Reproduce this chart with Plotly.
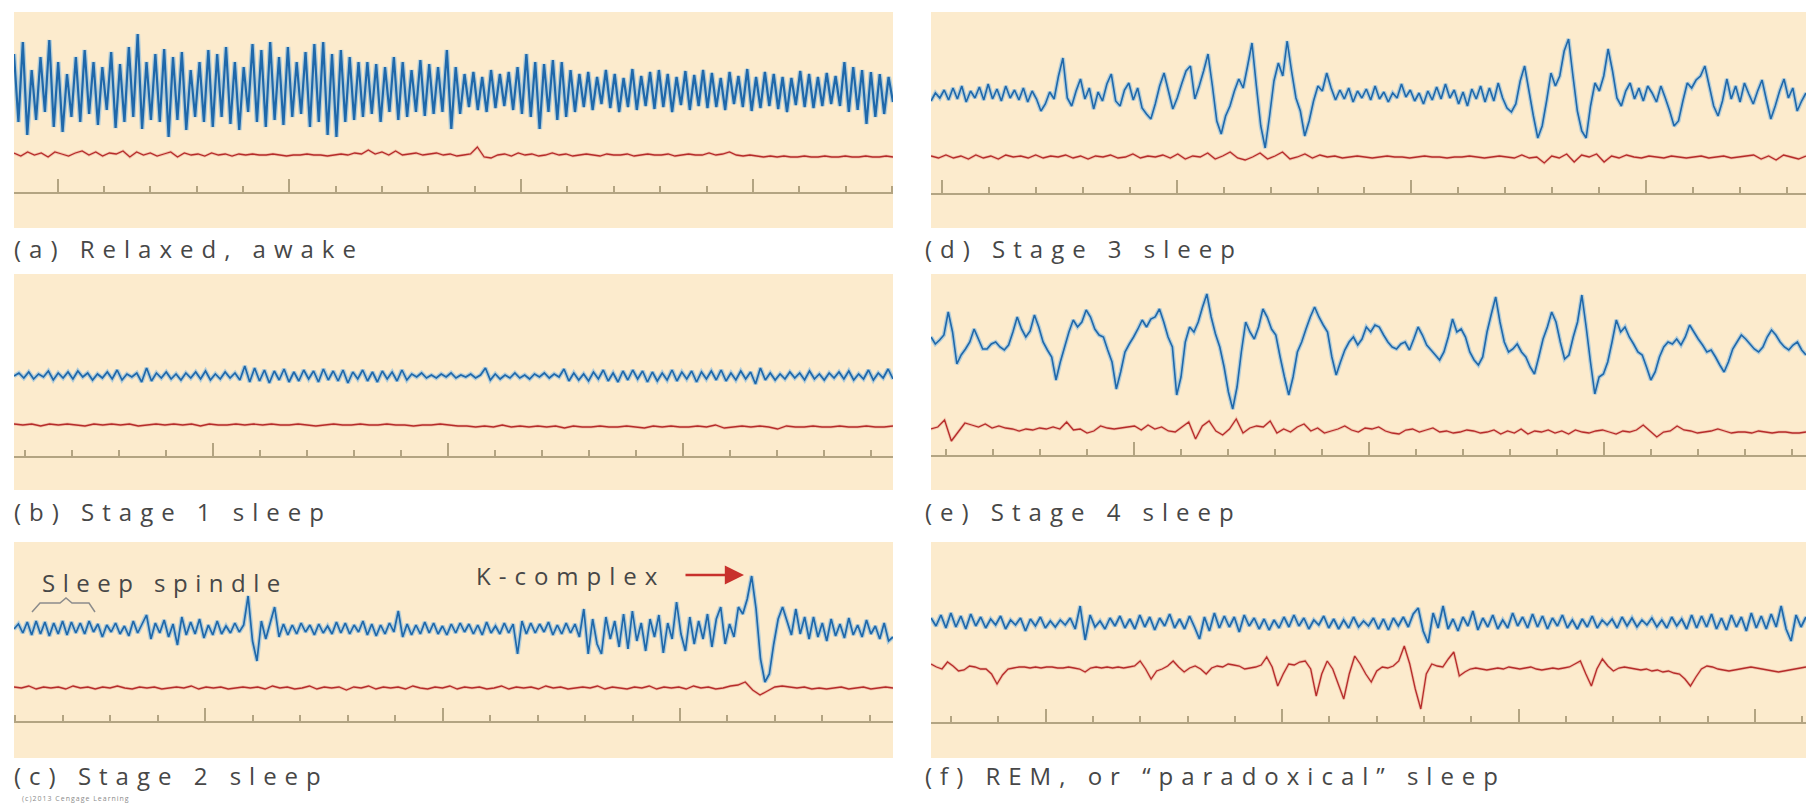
import numpy as np
import plotly.graph_objects as go

# ---------------- data (px units, + = up) ----------------
PANEL_TITLES = ["(a) Relaxed, awake", "(b) Stage 1 sleep", "(c) Stage 2 sleep",
                "(d) Stage 3 sleep", "(e) Stage 4 sleep", "(f) REM, or “paradoxical” sleep"]

EEG_A = [38,-30,50,-43,22,-28,35,-20,52,-35,30,-40,18,
         -25,35,-30,42,-22,30,-33,25,-18,40,-36,28,-30,45,-25,58,-37,30,-28,
         38,-30,43,-45,35,-28,40,-38,22,-25,30,
         -30,42,-35,38,-25,45,-32,30,-38,25,-20,48,-30,42,-35,50,-28,35,-33,45,-25,30,-22,
         40,-35,48,-30,50,-43,38,-45,42,-30,35,-28,30,
         -25,30,-22,28,-30,25,-20,35,-28,30,-25,22,-20,32,-24,28,-22,25,
         -20,42,-37,25,-22,
         18,-15,20,-18,15,-20,22,-16,18,-14,20,-18,25,
         -22,38,-25,30,-37,28,-20,32,-28,30,-25,22,-20,18,
         -15,20,-18,15,-12,22,-16,18,-20,14,-15,23,-18,16,-14,20,-17,22,-15,18,-20,15,-13,21,
         -18,17,-14,22,-16,19,-15,14,-18,20,-12,16,-15,23,-19,15,-16,20,-14,18,-17,15,-20,14,
         -13,21,-15,18,-16,15,-14,19,-12,
         16,-14,30,-20,25,-18,22,-32,20,-25,18,-22,15,-10]
EMG_A = [2,-1,3,0,2,-2,3,1,-1,2,4,0,3,-1,2,1,4,-2,3,0,2,-1,1,3,-2,2,0,1,-1,2,0,1,-1,1,
         0,1,0,0,1,0,-1,0,0,1,0,0,-1,0,1,0,2,1,
         5,1,3,0,4,0,1,2,0,1,2,0,1,-1,0,1,
         8,-2,-3,
         0,1,-1,2,0,1,-1,0,2,0,1,-1,0,1,0,-1,1,0,0,1,-1,0,1,0,0,1,-1,0,1,0,0,2,0,1,3,
         0,-1,0,-1,-2,-1,-2,-1,-2,-2,-1,-2,-2,-1,-2,-2,-1,-2,-2,-1,-2,-2,-1,-2]

EEG_B = [0,3,-2,4,-3,2,-1,5,-4,3,-2,4,-3,5,-1,3,-4,2,-2,4,-3,6,-4,2,-1,3,
         -6,8,-5,3,-2,
         4,-3,2,-4,3,-2,4,-3,5,-4,2,-3,4,-2,3,-4,
         10,-6,8,
         -5,6,-7,5,-4,7,-6,4,-5,6,-3,5,-6,7,-4,5,-5,6,-7,4,-3,6,-5,4,-6,5,-3,4,-5,6,-4,
         2,-1,3,-2,1,-2,2,-1,3,-2,1,-1,2,-2,1,
         8,-4,
         2,-3,1,-2,3,-2,1,-3,2,-1,3,-2,2,-1,
         7,-5,
         3,-4,2,-5,4,-3,6,-5,3,-6,5,-4,6,-3,5,-6,4,-5,3,-4,6,-5,4,-3,5,-6,4,-3,5,-4,6,-5,3,-4,5,-3,4,
         -8,8,-4,
         3,-4,2,-3,4,-2,3,-4,5,-3,2,-4,3,-2,4,-3,5,-4,2,-3,6,-4,3,-2,7,-3]
EMG_B = [1,0,1,-1,1,0,1,0,-1,1,0,1,0,1,-1,0,1,0,1,0,1,-1,1,0,0,1,0,1,0,1,0,0,1,0,-1,0,1,0,0,1,
         0,0,1,0,0,-1,0,0,1,0,-1,-1,-2,-1,-2,0,-2,-1,-2,-1,-2,-1,-3,-1,-2,-2,-1,-2,-2,-1,-2,-3,
         -1,-2,-1,-2,-2,-1,-2,0,-3,-2,-1,-2,-1,-2,-4,-1,-2,-2,-1,-2,-2,-1,-2,-2,-1,-2,-2,-1]

EEG_C = [0,5,-4,7,-6,8,-5,7,-7,6,-5,8,-6,7,-4,6,-5,8,-3,
         5,-8,4,-3,6,-5,3,-7,8,-4,5,
         14,-10,
         6,-4,9,-8,5,-16,12,-6,7,-5,10,-9,4,-6,8,-5,3,-4,6,-3,
         4,33,-12,-32,
         8,-10,6,22,-8,5,-6,4,
         -5,6,-3,4,-6,5,-4,3,-5,7,-4,6,-5,4,-3,8,-6,5,-7,4,-5,6,-3,18,-8,5,-6,4,-5,7,-4,6,
         -5,3,-6,5,-4,6,-3,5,-5,4,-6,7,-4,3,-5,6,-4,5,-25,8,-5,6,-4,5,-3,7,-6,4,-5,6,-4,5,
         -8,20,-25,10,-15,-25,12,-10,8,-18,15,-20,18,-12,6,-22,10,-8,14,-24,6,-10,27,-5,-22,12,
         -15,8,-10,15,-18,10,
         22,-15,5,-8,22,15,30,53,
         20,-30,-53,-45,-15,
         10,22,8,-6,20,-5,12,
         -10,12,-8,6,-12,10,-7,5,-9,11,-6,4,-8,9,-5,3,-10,6,-12,-8]
EMG_C = [1,0,2,-1,1,0,1,-1,2,0,1,-1,1,0,2,0,-1,1,0,1,-1,0,1,0,2,-1,1,0,1,-1,0,1,0,1,-1,2,0,1,
         -1,0,2,-1,1,0,1,-2,1,0,2,-1,1,0,1,-1,2,0,-1,1,0,2,-1,1,0,1,-1,0,2,-1,1,0,1,-1,2,0,1,-1,
         0,1,0,2,-1,1,0,-1,1,0,2,-1,1,0,1,-1,2,0,1,-1,0,2,
         3,6,-2,-7,-3,1,2,
         1,0,1,-1,0,-1,0,1,-1,0,1,-1,0,1,0]

EEG_D = [-5,3,-2,6,-4,8,-3,10,-6,5,-2,9,-4,12,-3,7,-5,10,-2,6,-4,8,-6,5,-3,-15,-8,4,-3,
         20,38,
         -2,-10,5,17,-3,8,-13,4,-5,
         12,22,-5,-10,6,13,-4,8,-12,-18,-23,
         -8,10,23,5,-13,
         -2,12,25,30,-3,10,25,42,10,
         -25,-38,-20,-10,
         5,17,8,30,53,
         10,-30,-52,-20,
         15,33,20,55,25,
         -2,-15,-40,-25,-5,
         10,5,23,8,-4,6,
         -3,8,-6,5,-2,7,-4,10,-3,4,-6,3,-2,12,-1,6,-5,3,-8,5,-4,9,-3,12,-2,6,-8,4,-10,7,-3,10,
         -6,8,-5,13,-2,-12,-16,-8,
         15,30,5,-20,-42,-30,-5,
         23,10,20,45,57,
         20,-15,-35,-42,
         -10,13,5,20,47,25,
         -2,-10,5,13,-3,8,-5,10,3,-6,
         10,-2,-15,-30,-25,-5,
         13,8,16,20,30,10,
         -10,-20,-5,17,-3,10,-6,13,2,-8,5,16,-4,-23,-10,5,17,-2,8,-15,-5,3]
EMG_D = [1,-1,2,-1,1,-2,2,-1,1,-2,2,0,1,-1,2,-1,1,0,2,-1,1,-2,1,0,2,-1,0,3,-1,1,0,2,-1,3,-2,1,
         0,4,-2,1,5,-1,-3,0,4,-2,1,5,-2,0,3,-1,2,0,1,-1,0,1,0,-1,0,1,0,0,-1,0,1,0,0,-1,0,0,1,0,
         -1,0,1,0,-1,2,-1,0,-6,1,-1,3,-5,2,0,3,-5,1,-1,2,0,-1,1,0,-1,1,0,-1,0,1,-1,0,1,-1,0,1,
         2,-2,1,-3,2,0,-2,1]

EEG_E = [10,3,7,12,35,15,-17,-8,-2,5,18,8,-2,
         -2,3,5,0,-3,2,15,30,18,10,16,32,20,
         5,-3,-10,-33,-15,0,15,27,20,25,37,30,18,
         12,10,-3,-15,-42,-25,-5,3,10,18,27,20,28,
         30,38,25,10,0,-48,-30,5,20,15,25,40,53,
         30,13,0,-20,-45,-62,-40,-5,25,15,8,20,38,
         30,18,12,-10,-30,-48,-30,-5,5,18,30,40,30,
         22,15,-10,-28,-15,-3,5,10,2,8,20,15,22,
         20,12,5,0,-2,3,5,-3,8,20,12,2,-3,
         -8,-13,-5,10,28,15,18,10,-5,-13,-18,-10,15,
         33,50,25,5,-5,-2,3,-5,-10,-20,-27,-10,8,
         20,35,25,5,-12,-8,10,25,52,20,-15,-47,-30,
         -27,-15,5,27,15,20,10,3,-5,-8,-20,-33,-25,
         -10,0,5,3,8,2,10,22,15,8,2,-5,-3,
         -10,-18,-25,-15,-2,5,12,8,3,-2,-5,0,10,
         17,12,5,0,-3,2,5,-3,-8]
EMG_E = [0,2,9,-12,-3,6,4,2,5,1,3,1,0,-2,0,-1,1,0,2,0,7,-1,0,-4,-2,3,1,0,1,2,3,-1,4,0,2,-2,
         -3,2,7,-10,3,8,-2,-6,0,10,-4,1,3,2,8,-4,0,-3,2,5,-2,1,-4,-2,0,3,-1,-3,1,0,2,-2,-4,-5,
         -1,0,-3,-1,1,-3,-2,-4,-3,-1,-2,-4,-3,-1,-5,-2,-4,0,-5,-2,-3,-1,-4,-2,-5,-1,-3,-4,-2,-1,
         -3,-5,-2,-3,-1,4,-2,-8,-3,-2,3,-1,-2,-4,-3,-2,0,-2,-4,-3,-3,-4,-2,-3,-4,-3,-3,-4,-4,-3]

EEG_F = [5,-3,8,-5,10,-4,7,-6,9,-3,6,-5,4,-2,7,-6,3,-2,5,-8,4,-3,6,-5,2,-4,3,-2,5,-6,17,-17,
         8,-4,2,-6,5,-3,7,-5,4,-6,8,-4,6,-7,5,-3,9,-5,4,-6,7,-4,-16,6,-8,10,-5,7,-4,6,-9,8,-3,
         5,-6,4,-7,3,-5,6,-4,8,-3,5,-6,3,-2,7,-5,4,-6,3,-5,6,-4,2,-3,5,-6,4,-7,5,-3,6,-4,9,15,
         -8,-20,10,-5,17,-6,4,-8,6,-3,12,-7,5,-4,8,-6,3,-5,10,-3,6,-5,9,-4,7,-6,5,-3,8,-5,3,-6,
         4,-4,7,-5,3,-2,4,-5,6,-3,5,-4,3,-2,5,-4,3,-5,6,-3,4,-6,8,-5,7,-4,9,-6,5,-7,8,-4,6,-8,
         10,-5,7,-6,9,-4,17,-6,-18,8,-4,6]
EMG_F = [5,2,0,7,3,-2,-1,3,2,0,0,
         -5,-15,-6,0,1,2,
         2,1,2,1,2,2,1,1,2,1,0,-3,1,2,1,2,1,2,1,2,3,
         8,0,-10,-2,0,3,
         8,2,-3,1,3,0,-5,1,3,2,5,4,
         3,0,1,2,4,12,
         2,-17,-5,5,4,7,
         8,0,-27,-5,8,0,-15,-30,
         -5,13,5,-5,-13,
         -2,2,1,3,8,23,
         5,-20,-40,-5,
         5,3,2,10,17,-7,
         -3,0,1,0,-1,0,1,0,2,1,0,1,2,0,-1,0,1,0,1,
         2,5,8,-5,-17,0,
         10,3,-2,1,2,1,
         0,-1,0,-2,-1,-3,-2,-4,-5,-10,-17,
         -8,0,3,2,0,-1,-2,-1,0,1,2,1,0,-1,-2,-3,-2,-1,0,1,2]

# ruler: first major tick and major spacing, in ruler divisions from the panel's left edge
RULER_TICK0 = [0.93, 4.23, 4.07, 5.23, 4.31, 2.44]
RULER_MAJOR_STEP = [4.93, 5.0, 5.05, 4.99, 5.0, 5.03]

# ---------------- layout / style ----------------
W, H = 1806, 806
DIV = 47.0  # px per ruler division
BG = "#fcebcd"
RULER = "#b3a482"
BLUE = "#1f68aa"
BLUE_HALO = "rgba(130,185,225,0.6)"
RED = "#b52c2a"
RED_HALO = "rgba(224,120,110,0.35)"
TXT = "#474747"
FONT = "Open Sans"
LS = 8  # letter spacing (px) of the stretched-looking captions

COLS = [(14, 893), (931, 1806)]
ROWS = [(12, 228), (274, 490), (542, 758)]

panels = [
    dict(col=0, row=0, eeg=EEG_A, emg=EMG_A, eb=136, mb=73, rl=35, ty=248, bw=2.2),
    dict(col=0, row=1, eeg=EEG_B, emg=EMG_B, eb=114, mb=65, rl=33, ty=511, bw=1.7),
    dict(col=0, row=2, eeg=EEG_C, emg=EMG_C, eb=129, mb=70, rl=36, ty=775, bw=1.7),
    dict(col=1, row=0, eeg=EEG_D, emg=EMG_D, eb=132, mb=71, rl=34, ty=248, bw=1.6),
    dict(col=1, row=1, eeg=EEG_E, emg=EMG_E, eb=143, mb=61, rl=34, ty=511, bw=1.6),
    dict(col=1, row=2, eeg=EEG_F, emg=EMG_F, eb=135, mb=89, rl=35, ty=775, bw=1.7),
]


def px(x):
    return x / W


def py(y):
    return 1 - y / H


def spaced(s, ls=LS):
    return '<span style="letter-spacing:%spx">%s</span>' % (ls, s)


fig = go.Figure()
layout = dict(
    width=W, height=H, autosize=False,
    margin=dict(l=0, r=0, t=0, b=0, pad=0),
    paper_bgcolor="white", plot_bgcolor=BG,
    showlegend=False,
)
annotations = []

for i, p in enumerate(panels):
    n = "" if i == 0 else str(i + 1)
    x0, x1 = COLS[p["col"]]
    y0, y1 = ROWS[p["row"]]
    wu = (x1 - x0) / DIV
    hpx = y1 - y0
    xa, ya = "x" + n, "y" + n

    eeg = np.array(p["eeg"], dtype=float) + p["eb"]
    emg = np.array(p["emg"], dtype=float) + p["mb"]
    xe = np.linspace(0, wu, len(eeg))
    xm = np.linspace(0, wu, len(emg))

    fig.add_trace(go.Scatter(x=xe, y=eeg, mode="lines", xaxis=xa, yaxis=ya,
                             line=dict(color=BLUE_HALO, width=p["bw"] + 2.6, simplify=False),
                             hoverinfo="skip"))
    fig.add_trace(go.Scatter(x=xe, y=eeg, mode="lines", xaxis=xa, yaxis=ya,
                             line=dict(color=BLUE, width=p["bw"], simplify=False), hoverinfo="skip"))
    fig.add_trace(go.Scatter(x=xm, y=emg, mode="lines", xaxis=xa, yaxis=ya,
                             line=dict(color=RED_HALO, width=3, simplify=False), hoverinfo="skip"))
    fig.add_trace(go.Scatter(x=xm, y=emg, mode="lines", xaxis=xa, yaxis=ya,
                             line=dict(color=RED, width=1.3, simplify=False), hoverinfo="skip"))

    step = RULER_MAJOR_STEP[i]
    layout["xaxis" + n] = dict(
        domain=[px(x0), px(x1)], range=[0, wu], anchor="free",
        position=py(y1 - p["rl"]),
        showline=True, linecolor=RULER, linewidth=2,
        ticks="inside", ticklen=13, tickwidth=1.7, tickcolor=RULER,
        tickmode="linear", tick0=RULER_TICK0[i], dtick=step, showticklabels=False,
        showgrid=False, zeroline=False, fixedrange=True,
        minor=dict(tickmode="linear", tick0=RULER_TICK0[i], dtick=step / 5.0, ticks="inside",
                   ticklen=6, tickwidth=1.7, tickcolor=RULER, showgrid=False),
    )
    layout["yaxis" + n] = dict(
        domain=[py(y1), py(y0)], range=[0, hpx], anchor=xa,
        visible=False, showgrid=False, zeroline=False, fixedrange=True,
    )
    annotations.append(dict(
        xref="paper", yref="paper", x=px(x0 - 2 if p["col"] == 0 else x0 - 8), y=py(p["ty"]),
        xanchor="left", yanchor="middle", showarrow=False,
        text=spaced(PANEL_TITLES[i]),
        font=dict(family=FONT, size=24, color=TXT),
    ))

# panel (c) call-outs
annotations.append(dict(xref="paper", yref="paper", x=px(40), y=py(582), xanchor="left", yanchor="middle",
                        showarrow=False, text=spaced("Sleep spindle", 7.5),
                        font=dict(family=FONT, size=24, color=TXT)))
annotations.append(dict(xref="paper", yref="paper", x=px(474), y=py(575), xanchor="left", yanchor="middle",
                        showarrow=False, text=spaced("K-complex", 8),
                        font=dict(family=FONT, size=24, color=TXT)))
annotations.append(dict(xref="paper", yref="paper", x=px(744), y=py(575), text="",
                        showarrow=True, axref="pixel", ayref="pixel", ax=-60, ay=0,
                        arrowhead=2, arrowsize=1.6, arrowwidth=2.4, arrowcolor="#c8312c"))
annotations.append(dict(xref="paper", yref="paper", x=px(20), y=py(798), xanchor="left", yanchor="middle",
                        showarrow=False, text=spaced("(c)2013 Cengage Learning", 1),
                        font=dict(family=FONT, size=7, color="#8a8a8a")))

# bracket over the sleep spindle
brace = [(32, 612), (40, 603), (60, 603), (66, 598), (72, 603), (89, 603), (95, 612)]
path = "M " + " L ".join(f"{px(a):.5f},{py(b):.5f}" for a, b in brace)
layout["shapes"] = [dict(type="path", xref="paper", yref="paper", path=path,
                         line=dict(color="#8c8c8c", width=1.5))]
layout["annotations"] = annotations

fig.update_layout(**layout)
fig.write_html("out.html", config={"displayModeBar": False},
               post_script="document.body.style.margin='0px';document.body.style.overflow='hidden';")
